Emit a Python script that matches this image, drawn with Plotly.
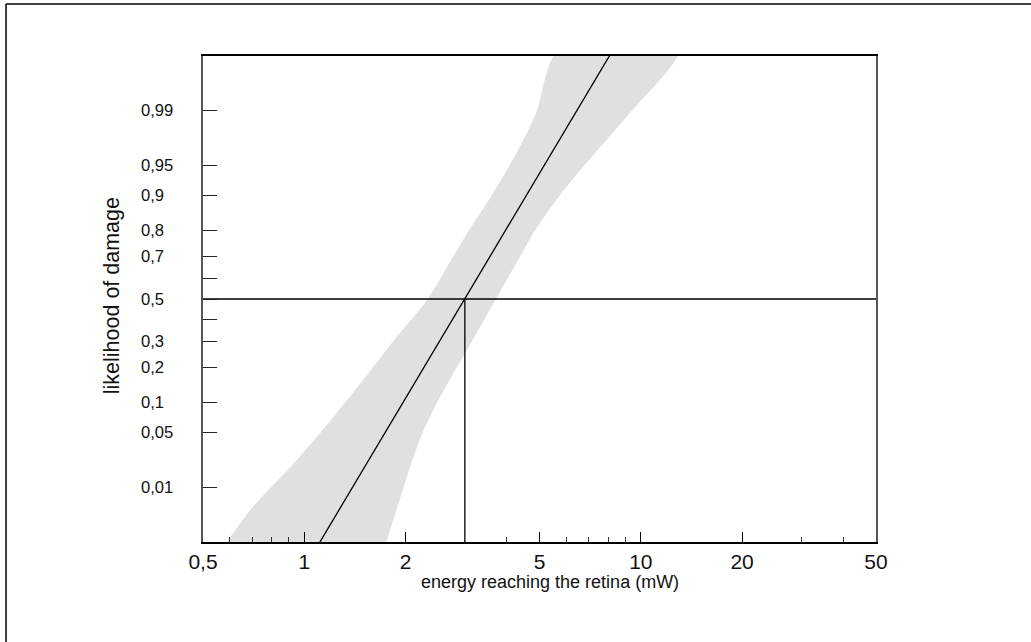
import math
import plotly.graph_objects as go
from statistics import NormalDist

_nd = NormalDist()


def probit(p):
    return _nd.inv_cdf(p)


# ---- data ----
band_p = [0.0012, 0.005, 0.02, 0.05, 0.1, 0.2, 0.3, 0.5, 0.7, 0.8, 0.9, 0.95, 0.98, 0.99, 0.9988]
band_lo = [0.58, 0.70, 0.92, 1.12, 1.32, 1.60, 1.835, 2.33, 2.77, 3.08, 3.61, 4.07, 4.59, 4.92, 5.6]
band_hi = [1.74, 1.89, 2.07, 2.25, 2.48, 2.84, 3.15, 3.71, 4.38, 4.84, 5.75, 6.78, 8.26, 9.42, 12.9]

fit_p = [0.0012, 0.5, 0.9988]
fit_x = [1.10, 3.0, 8.16]

ed50_x = 3.0
ed50_p = 0.5

x_tick_vals = [0.5, 1, 2, 5, 10, 20, 50]
x_tick_text = ["0,5", "1", "2", "5", "10", "20", "50"]
x_minor_vals = [0.6, 0.7, 0.8, 0.9, 4, 6, 7, 8, 9, 30, 40]

y_tick_p = [0.01, 0.05, 0.1, 0.2, 0.3, 0.4, 0.5, 0.6, 0.7, 0.8, 0.9, 0.95, 0.99]
y_tick_text = ["0,01", "0,05", "0,1", "0,2", "0,3", "", "0,5", "", "0,7", "0,8", "0,9", "0,95", "0,99"]

x_range = [0.5, 50]
z_lim = 3.0

FONT = "Liberation Sans, Arial, sans-serif"

fig = go.Figure()

# confidence band
poly_x = band_lo + band_hi[::-1]
poly_y = [probit(p) for p in band_p] + [probit(p) for p in band_p[::-1]]
fig.add_trace(go.Scatter(x=poly_x, y=poly_y, mode="lines", fill="toself",
                         fillcolor="#e0e0e0", line=dict(width=0, shape="spline", smoothing=0.6),
                         hoverinfo="skip", showlegend=False))

# fitted line
fig.add_trace(go.Scatter(x=fit_x, y=[probit(p) for p in fit_p], mode="lines",
                         line=dict(color="black", width=1.3), showlegend=False))

# reference lines at 50 %
fig.add_trace(go.Scatter(x=x_range, y=[probit(ed50_p)] * 2, mode="lines",
                         line=dict(color="black", width=1.3), showlegend=False))
fig.add_trace(go.Scatter(x=[ed50_x, ed50_x], y=[-z_lim - 0.1, probit(ed50_p)], mode="lines",
                         line=dict(color="black", width=1.3), showlegend=False))

fig.update_xaxes(type="log", range=[math.log10(x_range[0]), math.log10(x_range[1])],
                 tickmode="array", tickvals=x_tick_vals, ticktext=x_tick_text,
                 ticks="inside", ticklen=10, tickwidth=1.3, tickcolor="black",
                 minor=dict(tickvals=x_minor_vals, ticks="inside", ticklen=5,
                            tickwidth=1, tickcolor="#333"),
                 showline=True, linecolor="black", linewidth=1.5, mirror=True,
                 showgrid=False, zeroline=False,
                 tickfont=dict(family=FONT, size=21, color="#111"))

fig.update_yaxes(range=[-z_lim, z_lim], tickmode="array",
                 tickvals=[probit(p) for p in y_tick_p],
                 ticks="inside", ticklen=14, tickwidth=1.3, tickcolor="#222",
                 showticklabels=False,
                 showline=True, linecolor="#555", linewidth=2, mirror=True,
                 showgrid=False, zeroline=False)

annotations = []
for p, t in zip(y_tick_p, y_tick_text):
    if t:
        annotations.append(dict(x=-0.0951, y=probit(p), xref="paper", yref="y",
                                text=t, showarrow=False, xanchor="left", yanchor="middle",
                                font=dict(family=FONT, size=16.6, color="#111")))
annotations.append(dict(x=-0.135, y=0.506, xref="paper", yref="paper",
                        text="likelihood of damage", showarrow=False, textangle=-90,
                        xanchor="center", yanchor="middle",
                        font=dict(family=FONT, size=21.5, color="#111")))
annotations.append(dict(x=0.5156, y=-0.082, xref="paper", yref="paper",
                        text="energy reaching the retina (mW)", showarrow=False,
                        xanchor="center", yanchor="middle",
                        font=dict(family=FONT, size=18, color="#111")))

shapes = [
    dict(type="line", xref="paper", yref="paper", x0=-0.2927, x1=-0.2927, y0=-0.3, y1=1.107,
         line=dict(color="black", width=1.5)),
    dict(type="line", xref="paper", yref="paper", x0=-0.2927, x1=1.3, y0=1.107, y1=1.107,
         line=dict(color="black", width=1.5)),
]

fig.update_layout(width=1031, height=642,
                  margin=dict(l=203, r=155, t=56, b=100),
                  paper_bgcolor="white", plot_bgcolor="white",
                  annotations=annotations, shapes=shapes,
                  showlegend=False, font=dict(family=FONT))

fig.write_html("out.html", config={"displayModeBar": False},
               post_script="document.body.style.margin='0';document.body.style.overflow='hidden';")
